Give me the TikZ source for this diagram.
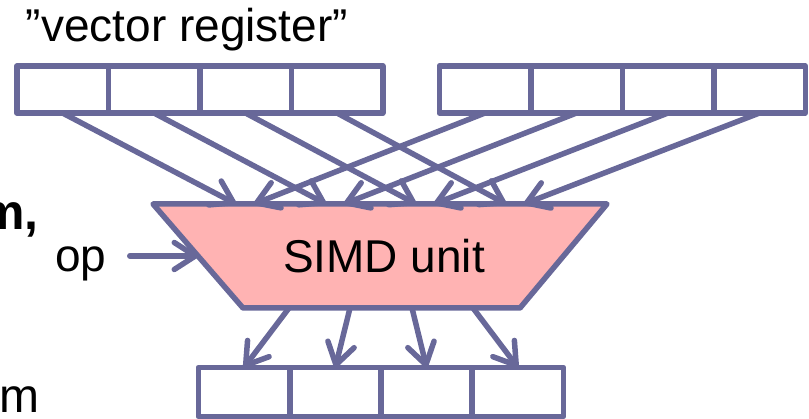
\documentclass[tikz,border=0pt]{standalone}
\usepackage{fontspec}
\setmainfont{Liberation Sans}
\usetikzlibrary{arrows.meta,calc,positioning}
\definecolor{regblue}{RGB}{104,104,153}
\definecolor{simdpink}{RGB}{255,179,179}

\begin{document}
\begin{tikzpicture}[x=1pt,y=-1pt,
    every node/.style={font=\fontsize{46}{52}\selectfont},
    cell/.style={draw=regblue,line width=5.5pt,line join=round,minimum width=91.5pt,
      minimum height=47pt,inner sep=0pt,outer sep=0pt},
    lane/.style={draw=regblue,line width=5.5pt,line cap=round,
      -{Straight Barb[length=21pt,width=27pt,line cap=round,line join=round]}},
  ]
  \useasboundingbox (0,0) rectangle (809,419);
  % registers: two inputs on top, the result below
  \foreach \i in {1,...,4} {
    \node[cell] (a\i) at ({62.5+91.5*(\i-1)},89.5) {};
    \node[cell] (b\i) at ({485+91.5*(\i-1)},89.5) {};
    \node[cell,minimum height=49pt] (c\i) at ({244+91.3*(\i-1)},392) {};
  }
  \node[anchor=base] (label) at (187,42) {”vector register”};
  % the SIMD unit
  \coordinate (simdtop) at (380,204);
  \coordinate (simdbot) at (381,308);
  \coordinate (simdleft) at (198,256);
  \draw[fill=simdpink,draw=regblue,line width=5.5pt,line join=round]
    (153,204) -- (607,204) -- (520,308) -- (243,308) -- cycle;
  \node (simd) at (384,256) {SIMD unit};
  \node[anchor=base,inner sep=0pt] (op) at (81,272) {op};
  % cut-off words at the left margin
  \node[anchor=base west,inner sep=0pt,font=\fontsize{50}{56}\selectfont\bfseries] (frag1) at (-20,230) {m,};
  \node[anchor=base west,inner sep=0pt,font=\fontsize{48}{54}\selectfont] (frag2) at (-1,413) {m};
  % lanes
  \foreach \i/\dx in {1/-144,2/-54,3/36,4/126}
    \draw[lane] (a\i.south) -- ($(simdtop)+(\dx,0)$);
  \foreach \i/\dx in {1/-126,2/-36,3/54,4/144}
    \draw[lane] (b\i.south) -- ($(simdtop)+(\dx,0)$);
  \foreach \i/\dx in {1/-92,2/-31,3/31,4/92}
    \draw[lane] ($(simdbot)+(\dx,0)$) -- (c\i.north);
  \draw[lane] ([xshift=23pt]op.east |- simdleft) -- (simdleft);
\end{tikzpicture}
\end{document}
